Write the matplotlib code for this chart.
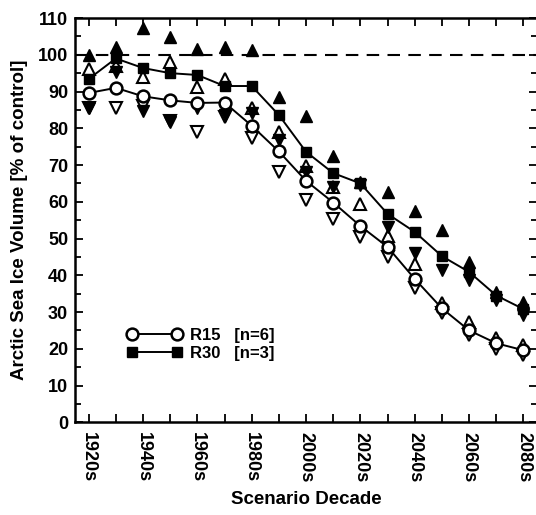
import matplotlib.pyplot as plt
import numpy as np

plt.rcParams['font.family'] = ['Liberation Sans', 'DejaVu Sans']
plt.rcParams['font.weight'] = 'bold'

decades = [1920, 1930, 1940, 1950, 1960, 1970, 1980, 1990, 2000,
           2010, 2020, 2030, 2040, 2050, 2060, 2070, 2080]
r15_mean = [89.6, 91.0, 88.7, 87.6, 86.9, 87.0, 80.7, 73.7, 65.7,
            59.8, 53.4, 47.7, 39.0, 31.0, 25.0, 21.5, 19.6]
r15_max = [96.2, 97.0, 94.0, 98.0, 91.2, 93.4, 85.5, 79.0, 69.8,
           64.0, 59.5, 50.7, 43.0, 32.4, 27.2, 23.0, 21.0]
r15_min = [85.5, 85.5, 86.0, 82.0, 79.0, 83.0, 77.3, 68.0, 60.5,
           55.3, 50.5, 45.0, 36.5, 29.7, 23.7, 20.0, 18.3]
r30_mean = [93.4, 99.0, 96.4, 95.0, 94.5, 91.5, 91.5, 83.6, 73.6,
            67.8, 65.0, 56.7, 51.8, 45.2, 40.9, 34.5, 30.8]
r30_max = [100.0, 102.0, 107.4, 104.9, 101.6, 102.2, 101.2, 88.5, 83.4,
           72.5, 65.5, 62.7, 57.5, 52.3, 43.6, 35.4, 32.7]
r30_min = [85.5, 95.4, 84.7, 81.8, 85.5, 83.6, 84.2, 76.8, 68.0,
           64.0, 64.5, 53.2, 46.0, 41.4, 38.7, 33.2, 29.2]

x = np.arange(len(decades))
labels = [f"{d}s" if i % 2 == 0 else "" for i, d in enumerate(decades)]

fig = plt.figure(figsize=(5.36, 5.15), dpi=100)
ax = fig.add_axes([0.14, 0.18, 0.862, 0.785])

ax.axhline(100, color='black', lw=1.5, ls=(0, (6, 4)), zorder=1)

# spread markers
ax.plot(x, r15_max, ls='none', marker='^', ms=8, mfc='white', mec='black', mew=1.5, zorder=3)
ax.plot(x, r15_min, ls='none', marker='v', ms=8, mfc='white', mec='black', mew=1.5, zorder=3)
ax.plot(x, r30_max, ls='none', marker='^', ms=8, mfc='black', mec='black', zorder=3)
ax.plot(x, r30_min, ls='none', marker='v', ms=8, mfc='black', mec='black', zorder=3)

# ensemble means
ax.plot(x, r15_mean, color='black', lw=1.4, marker='o', ms=8.5, mfc='white',
        mec='black', mew=1.8, label='R15   [n=6]', zorder=4)
ax.plot(x, r30_mean, color='black', lw=1.4, marker='s', ms=7, mfc='black',
        mec='black', label='R30   [n=3]', zorder=4)

ax.set_xlim(-0.5, 16.5)
ax.set_ylim(0, 110)
ax.set_xticks(x)
ax.set_xticklabels(labels, rotation=270, fontsize=13, fontweight='bold')
ax.set_yticks(np.arange(0, 111, 10))
ax.set_yticks(np.arange(5, 110, 10), minor=True)
ax.tick_params(axis='y', labelsize=13, pad=5)
ax.tick_params(axis='x', pad=7)
ax.tick_params(which='both', direction='in', top=True, right=True, width=1.3)
ax.tick_params(which='major', length=6)
ax.tick_params(which='minor', length=4)
for s in ax.spines.values():
    s.set_linewidth(1.8)

ax.set_xlabel('Scenario Decade', fontsize=13.5, fontweight='bold', labelpad=6)
ax.set_ylabel('Arctic Sea Ice Volume [% of control]', fontsize=13.5,
              fontweight='bold', labelpad=7)

leg = ax.legend(loc='lower left', bbox_to_anchor=(0.08, 0.115), frameon=False,
                numpoints=2, handlelength=3.3, fontsize=12, handletextpad=0.5,
                labelspacing=0.15)

fig.savefig('out.png', dpi=100)
